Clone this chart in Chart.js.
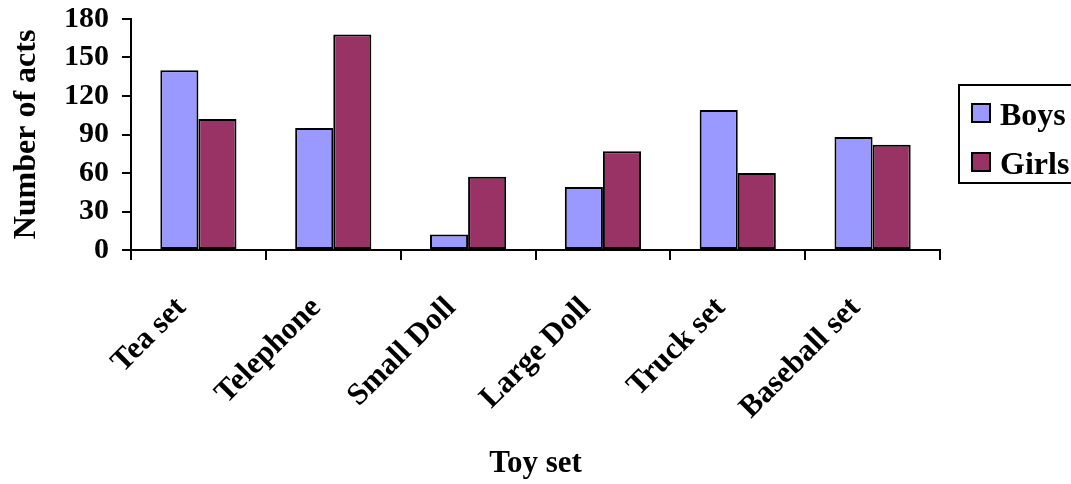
<!DOCTYPE html>
<html lang="en">
<head>
  <meta charset="UTF-8">
  <title>Number of acts by toy set</title>
  <script src="https://cdn.jsdelivr.net/npm/chart.js"></script>
  <style>
    html, body { margin: 0; padding: 0; background: #fff; }
    .chart-container { width: 1071px; height: 484px; position: relative; }
  </style>
</head>
<body>
  <div class="chart-container">
    <canvas id="toyChart"></canvas>
  </div>
  <script>
    // datos
    const categories = ['Tea set', 'Telephone', 'Small Doll', 'Large Doll', 'Truck set', 'Baseball set'];
    const boys = [140, 95, 12, 49, 109, 88];
    const girls = [102, 168, 57, 77, 60, 82];
    const yTicks = [0, 30, 60, 90, 120, 150, 180];

    const serif = '"Liberation Serif", "Times New Roman", serif';

    // leyenda con borde, al estilo Excel
    const boxLegend = {
      id: 'boxLegend',
      afterDraw(chart) {
        const ctx = chart.ctx;
        const left = chart.chartArea.right + 19;
        const top = 85;
        ctx.save();
        ctx.strokeStyle = '#000';
        ctx.lineWidth = 2;
        ctx.strokeRect(left, top, 120, 98);
        ctx.font = 'bold 32px ' + serif;
        ctx.textBaseline = 'alphabetic';
        chart.data.datasets.forEach((ds, i) => {
          const y = top + 19 + i * 49;
          ctx.fillStyle = ds.backgroundColor;
          ctx.fillRect(left + 13, y, 18, 18);
          ctx.strokeStyle = '#000';
          ctx.lineWidth = 2;
          ctx.strokeRect(left + 13, y, 18, 18);
          ctx.fillStyle = '#000';
          ctx.fillText(ds.label, left + 41, y + 21);
        });
        ctx.restore();
      }
    };

    const ctx = document.getElementById('toyChart').getContext('2d');
    new Chart(ctx, {
      type: 'bar',
      data: {
        labels: categories,
        datasets: [
          {
            label: 'Boys',
            data: boys,
            backgroundColor: '#9999FF',
            borderColor: '#000',
            borderWidth: 2,
            borderSkipped: false
          },
          {
            label: 'Girls',
            data: girls,
            backgroundColor: '#993366',
            borderColor: '#000',
            borderWidth: 2,
            borderSkipped: false
          }
        ]
      },
      options: {
        responsive: true,
        maintainAspectRatio: false,
        animation: false,
        layout: { padding: { left: 4, right: 131, top: 19, bottom: 0 } },
        datasets: {
          bar: { categoryPercentage: 0.565, barPercentage: 1.0 }
        },
        scales: {
          x: {
            grid: {
              drawOnChartArea: false,
              tickLength: 10,
              color: '#000',
              lineWidth: 2,
              offset: true
            },
            border: { color: '#000', width: 2 },
            ticks: {
              color: '#000',
              font: { family: serif, size: 31, weight: 'bold' },
              minRotation: 45,
              maxRotation: 45,
              padding: 30,
              labelOffset: -17,
              autoSkip: false
            },
            title: {
              display: true,
              text: 'Toy set',
              color: '#000',
              font: { family: serif, size: 31, weight: 'bold' },
              padding: { top: 4, bottom: 1 }
            },
            afterFit(scale) {
              scale.height = 484 - 250;
              scale.paddingLeft = 0;
              scale.paddingRight = 0;
            }
          },
          y: {
            min: 0,
            max: 180,
            afterBuildTicks(scale) { scale.ticks = yTicks.map(v => ({ value: v })); },
            grid: {
              drawOnChartArea: false,
              tickLength: 9,
              color: '#000',
              lineWidth: 2
            },
            border: { color: '#000', width: 2 },
            ticks: {
              color: '#000',
              font: { family: serif, size: 30, weight: 'bold', lineHeight: 1 },
              padding: 13,
              autoSkip: false
            },
            title: {
              display: true,
              text: 'Number of acts',
              color: '#000',
              font: { family: serif, size: 32, weight: 'bold' },
              padding: { top: 4, bottom: 4 }
            },
            afterFit(scale) {
              scale.width = 131 - 4;
              scale.paddingTop = 0;
              scale.paddingBottom = 0;
            }
          }
        },
        plugins: {
          legend: { display: false },
          tooltip: { enabled: false }
        }
      },
      plugins: [boxLegend]
    });
  </script>
</body>
</html>
